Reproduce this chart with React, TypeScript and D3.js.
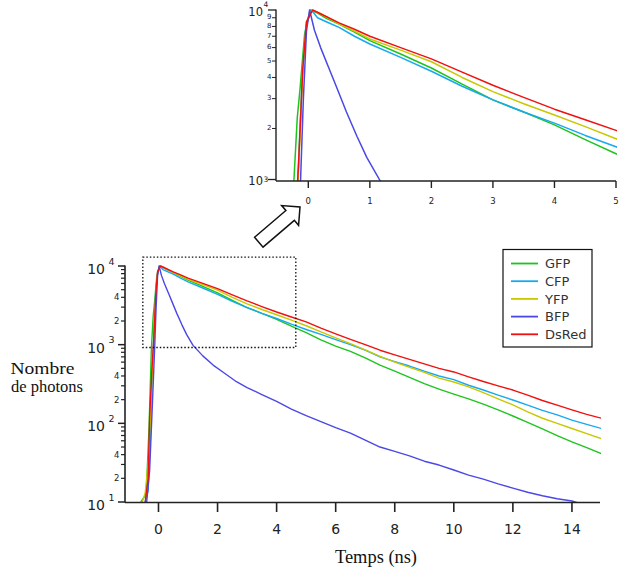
import * as d3 from 'd3';

type Pt = [number, number];

// time (ns), photon counts
const gfp: Pt[] = [
  [-0.6, 10], [-0.45, 12], [-0.41, 14], [-0.32, 90], [-0.24, 900], [-0.18, 2300], [-0.135, 3400],
  [-0.06, 7200], [0.03, 10000], [0.15, 9600], [0.3, 8900], [0.5, 8250], [0.75, 7400], [1, 6600],
  [1.5, 5500], [2, 4550], [2.5, 3650], [3, 2950], [3.5, 2500], [4, 2100], [4.5, 1720], [5, 1420],
  [5.5, 1150], [6, 960], [6.5, 820], [7, 680], [7.5, 550], [8, 460], [8.5, 385], [9, 320],
  [9.5, 272], [10, 235], [10.5, 205], [11, 175], [11.5, 148], [12, 124], [12.5, 103], [13, 85],
  [13.5, 70], [14, 58], [14.5, 49], [15, 41],
];

const cfp: Pt[] = [
  [-0.45, 10], [-0.35, 14], [-0.28, 60], [-0.22, 400], [-0.17, 1000], [-0.1, 4000], [-0.04, 8000],
  [0.05, 10000], [0.15, 9000], [0.3, 8500], [0.5, 7900], [0.75, 7000], [1, 6300], [1.5, 5250],
  [2, 4350], [2.5, 3550], [3, 2950], [3.5, 2500], [4, 2150], [4.5, 1820], [5, 1560], [5.5, 1350],
  [6, 1160], [6.5, 1000], [7, 850], [7.5, 700], [8, 610], [8.5, 535], [9, 460], [9.5, 400],
  [10, 360], [10.5, 305], [11, 265], [11.5, 228], [12, 198], [12.5, 170], [13, 146], [13.5, 128],
  [14, 110], [14.5, 97], [15, 86],
];

const yfp: Pt[] = [
  [-0.55, 10], [-0.45, 13], [-0.32, 40], [-0.22, 350], [-0.16, 1100], [-0.09, 4500], [-0.03, 8500],
  [0.06, 10000], [0.2, 9500], [0.5, 8300], [0.75, 7500], [1, 6750], [1.5, 5800], [2, 4950],
  [2.5, 4000], [3, 3300], [3.5, 2800], [4, 2400], [4.5, 2050], [5, 1740], [5.5, 1450], [6, 1220],
  [6.5, 1030], [7, 860], [7.5, 710], [8, 600], [8.5, 515], [9, 445], [9.5, 375], [10, 335],
  [10.5, 290], [11, 245], [11.5, 205], [12, 172], [12.5, 140], [13, 116], [13.5, 100], [14, 86],
  [14.5, 74], [15, 64],
];

const bfp: Pt[] = [
  [-0.4, 10], [-0.3, 25], [-0.2, 200], [-0.13, 900], [-0.08, 3000], [-0.03, 7500], [0.02, 10000],
  [0.1, 7600], [0.2, 6000], [0.35, 4400], [0.46, 3500], [0.62, 2500], [0.79, 1800], [0.95, 1350],
  [1.17, 980], [1.5, 720], [1.85, 550], [2.25, 430], [2.64, 338], [3, 285], [3.5, 232], [4, 190],
  [4.5, 152], [5, 125], [5.5, 105], [6, 88], [6.5, 75], [7, 61], [7.5, 50], [8, 44], [8.5, 38.5],
  [9, 33], [9.5, 29.5], [10, 25.5], [10.5, 22], [11, 19.5], [11.5, 17], [12, 15], [12.5, 13.3],
  [13, 12], [13.5, 11], [14, 10.3], [14.3, 9.5],
];

const dsred: Pt[] = [
  [-0.45, 10], [-0.35, 20], [-0.3, 120], [-0.22, 500], [-0.16, 1200], [-0.09, 4500], [-0.03, 8500],
  [0.07, 10000], [0.2, 9500], [0.5, 8400], [0.75, 7700], [1, 7000], [1.5, 6000], [2, 5150],
  [2.5, 4300], [3, 3600], [3.5, 3050], [4, 2600], [4.5, 2250], [5, 1950], [5.5, 1620], [6, 1370],
  [6.5, 1170], [7, 1000], [7.5, 850], [8, 740], [8.5, 650], [9, 570], [9.5, 500], [10, 450],
  [10.5, 390], [11, 340], [11.5, 300], [12, 265], [12.5, 228], [13, 195], [13.5, 170], [14, 148],
  [14.5, 130], [15, 116],
];

const seriesNames = ['GFP', 'CFP', 'YFP', 'BFP', 'DsRed'];
const seriesColors = ['#1ec41e', '#18a8f0', '#c8c800', '#4a48e6', '#f01010'];
const seriesData = [gfp, cfp, yfp, bfp, dsred];

const mainXTicks = [0, 2, 4, 6, 8, 10, 12, 14];
const insetXTicks = [0, 1, 2, 3, 4, 5];
const mainDecades = [1, 2, 3, 4];
const insetDecades = [3, 4];
const minorDigits = [2, 3, 4, 5, 6, 7, 8, 9];
const mainMinorLabels = [2, 4];
const insetMinorLabels = [2, 3, 4, 5, 6, 7, 8, 9];
const zoomBox = { t0: -0.53, t1: 4.65, v0: 920, v1: 13000 };

const sans = 'DejaVu Sans, sans-serif';
const serif = 'Liberation Serif, Times New Roman, serif';
const ink = '#222';

export default function App() {
  const xMain = d3.scaleLinear().domain([-1.1, 14.95]).range([126, 600]);
  const yMain = d3.scaleLog().domain([10, 10000]).range([502, 266]);
  const xIn = d3.scaleLinear().domain([-0.525, 5]).range([276, 616]);
  const yIn = d3.scaleLog().domain([980, 10000]).range([181, 10]);

  const lineMain = d3.line<Pt>().x(d => xMain(d[0])).y(d => yMain(d[1]));
  const lineIn = d3.line<Pt>().x(d => xIn(d[0])).y(d => yIn(d[1]));

  const mainMinor = mainDecades.slice(0, -1).flatMap(e => minorDigits.map(m => ({ m, v: m * 10 ** e })));
  const inMinor = minorDigits.map(m => ({ m, v: m * 1000 }));

  // hollow arrow pointing from the main plot toward the inset
  const tail: Pt = [258.8, 242.2];
  const tip: Pt = [300, 207];
  const len = Math.hypot(tip[0] - tail[0], tip[1] - tail[1]);
  const ang = (Math.atan2(tip[1] - tail[1], tip[0] - tail[0]) * 180) / Math.PI;
  const arrow: Pt[] = [
    [0, -6.5], [len - 13, -6.5], [len - 13, -13], [len, 0], [len - 13, 13], [len - 13, 6.5], [0, 6.5],
  ];

  return (
    <svg width={624} height={572} style={{ position: 'absolute', left: 0, top: 0, background: '#fff' }}>
      <defs>
        <clipPath id="clipMain">
          <rect x={126} y={250} width={475} height={252} />
        </clipPath>
        <clipPath id="clipIn">
          <rect x={277} y={5} width={340} height={176} />
        </clipPath>
      </defs>

      {/* ---------- main plot ---------- */}
      <g clipPath="url(#clipMain)">
        {seriesData.map((d, i) => (
          <path key={seriesNames[i]} d={lineMain(d) || ''} fill="none" stroke={seriesColors[i]}
            strokeWidth={1.4} strokeLinejoin="round" />
        ))}
      </g>

      <rect x={xMain(zoomBox.t0)} y={yMain(zoomBox.v1)}
        width={xMain(zoomBox.t1) - xMain(zoomBox.t0)} height={yMain(zoomBox.v0) - yMain(zoomBox.v1)}
        fill="none" stroke="#111" strokeWidth={1.3} strokeDasharray="1.5,2" />

      <line x1={125} x2={600} y1={502.5} y2={502.5} stroke={ink} strokeWidth={1.6} />
      <line x1={125} x2={125} y1={265.5} y2={502.5} stroke={ink} strokeWidth={1.6} />

      {mainXTicks.map(t => (
        <g key={t}>
          <line x1={xMain(t)} x2={xMain(t)} y1={502} y2={512} stroke={ink} strokeWidth={1.6} />
          <text x={xMain(t)} y={534} textAnchor="middle" fontFamily={sans} fontSize={14} fill={ink}>{t}</text>
        </g>
      ))}

      {mainDecades.map(e => {
        const y = yMain(10 ** e);
        return (
          <g key={e}>
            <line x1={118} x2={125} y1={y} y2={y} stroke={ink} strokeWidth={1.5} />
            <text x={105} y={y + 8} textAnchor="end" fontFamily={sans} fontSize={14} fill={ink}>10</text>
            <text x={108.5} y={y - 1.5} fontFamily={sans} fontSize={9.5} fill={ink}>{e}</text>
          </g>
        );
      })}
      {mainMinor.map(({ m, v }) => (
        <g key={v}>
          <line x1={121} x2={125} y1={yMain(v)} y2={yMain(v)} stroke={ink} strokeWidth={1.2} />
          {mainMinorLabels.includes(m) && (
            <text x={119.5} y={yMain(v) + 3} textAnchor="end" fontFamily={sans} fontSize={8.5} fill={ink}>{m}</text>
          )}
        </g>
      ))}

      <text x={376} y={563} textAnchor="middle" fontFamily={serif} fontSize={19} fill="#111"
        textLength={82} lengthAdjust="spacingAndGlyphs">Temps (ns)</text>
      <text x={42.5} y={374} textAnchor="middle" fontFamily={serif} fontSize={17.5} fill="#111"
        textLength={64} lengthAdjust="spacingAndGlyphs">Nombre</text>
      <text x={47} y={392} textAnchor="middle" fontFamily={serif} fontSize={17.5} fill="#111"
        textLength={72} lengthAdjust="spacingAndGlyphs">de photons</text>

      {/* legend */}
      <rect x={503} y={249.5} width={89} height={97.5} fill="#fff" stroke="#111" strokeWidth={1.2} />
      {seriesNames.map((name, i) => {
        const y = 263.5 + i * 17.7;
        return (
          <g key={name}>
            <line x1={511} x2={538} y1={y} y2={y} stroke={seriesColors[i]} strokeWidth={1.8} />
            <text x={545} y={y + 4.8} fontFamily={sans} fontSize={13} fill="#333">{name}</text>
          </g>
        );
      })}

      {/* arrow */}
      <polygon points={arrow.map(p => p.join(',')).join(' ')} fill="#fff" stroke="#111" strokeWidth={1.5}
        strokeLinejoin="miter" transform={`translate(${tail[0]},${tail[1]}) rotate(${ang})`} />

      {/* ---------- inset ---------- */}
      <g clipPath="url(#clipIn)">
        {seriesData.map((d, i) => (
          <path key={seriesNames[i]} d={lineIn(d) || ''} fill="none" stroke={seriesColors[i]}
            strokeWidth={1.5} strokeLinejoin="round" />
        ))}
      </g>

      <line x1={276} x2={616} y1={181} y2={181} stroke={ink} strokeWidth={1.4} />
      <line x1={276} x2={276} y1={9.5} y2={181} stroke={ink} strokeWidth={1.4} />

      {insetXTicks.map(t => (
        <g key={t}>
          <line x1={xIn(t)} x2={xIn(t)} y1={181} y2={188} stroke={ink} strokeWidth={1.4} />
          <text x={xIn(t)} y={203.5} textAnchor="middle" fontFamily={sans} fontSize={8.5} fill={ink}>{t}</text>
        </g>
      ))}

      {insetDecades.map(e => {
        const y = yIn(10 ** e);
        const top = e === 4;
        return (
          <g key={e}>
            <line x1={268} x2={276} y1={y} y2={y} stroke={ink} strokeWidth={1.3} />
            <text x={263} y={top ? y + 6 : y + 5.5} textAnchor="end" fontFamily={sans} fontSize={11.5} fill={ink}>10</text>
            <text x={263.5} y={top ? y - 3.5 : y + 2.5} fontFamily={sans} fontSize={7.5} fill={ink}>{e}</text>
          </g>
        );
      })}
      {inMinor.map(({ m, v }) => (
        <g key={v}>
          <line x1={272} x2={276} y1={yIn(v)} y2={yIn(v)} stroke={ink} strokeWidth={1} />
          {insetMinorLabels.includes(m) && (
            <text x={271.5} y={yIn(v) + 1.5} textAnchor="end" fontFamily={sans} fontSize={7} fill={ink}>{m}</text>
          )}
        </g>
      ))}
    </svg>
  );
}
